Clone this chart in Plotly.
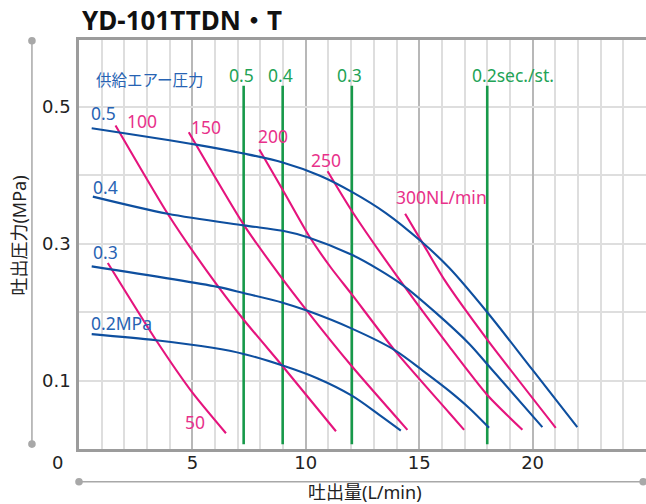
import plotly.graph_objects as go

# ---------------- data ----------------
# supply air pressure curves (MPa): discharge flow (L/min) vs discharge pressure (MPa)
p05_x = [0.56, 5.16, 7.26, 8.98, 10.6, 12.03, 13.53, 15.07, 16.32, 18.0, 19.99, 21.97]
p05_y = [0.469, 0.445, 0.432, 0.419, 0.400, 0.376, 0.345, 0.304, 0.265, 0.200, 0.116, 0.032]
p04_x = [0.61, 3.91, 7.26, 8.98, 10.15, 12.03, 13.24, 14.26, 15.74, 17.2, 18.0, 20.43]
p04_y = [0.369, 0.344, 0.327, 0.319, 0.309, 0.284, 0.262, 0.240, 0.199, 0.154, 0.124, 0.032]
p03_x = [0.56, 6.11, 7.26, 8.98, 10.08, 12.03, 13.9, 15.3, 16.32, 17.2, 18.08]
p03_y = [0.267, 0.237, 0.228, 0.214, 0.202, 0.176, 0.145, 0.111, 0.085, 0.060, 0.031]
p02_x = [0.56, 3.40, 5.89, 7.26, 8.98, 10.5, 12.03, 13.24, 14.19]
p02_y = [0.168, 0.159, 0.148, 0.139, 0.122, 0.1035, 0.078, 0.050, 0.027]
pressure_labels = ["0.5", "0.4", "0.3", "0.2MPa"]

# air consumption curves (NL/min)
c50_x = [1.27, 3.40, 5.01, 6.48]
c50_y = [0.272, 0.159, 0.082, 0.023]
c100_x = [1.61, 3.91, 5.6, 7.26, 8.98, 11.33]
c100_y = [0.473, 0.344, 0.262, 0.189, 0.121, 0.026]
c150_x = [4.84, 7.26, 8.83, 10.08, 12.03, 14.48]
c150_y = [0.463, 0.328, 0.255, 0.201, 0.121, 0.028]
c200_x = [7.95, 8.98, 10.15, 11.11, 12.03, 13.9, 16.32, 16.98]
c200_y = [0.438, 0.379, 0.311, 0.265, 0.226, 0.145, 0.053, 0.028]
c250_x = [10.96, 12.03, 14.34, 16.32, 18.0, 19.55]
c250_y = [0.406, 0.348, 0.238, 0.150, 0.079, 0.028]
c300_x = [14.38, 15.15, 16.1, 18.0, 21.02]
c300_y = [0.344, 0.301, 0.248, 0.160, 0.031]
consumption_labels = ["50", "100", "150", "200", "250", "300NL/min"]

# cycle time lines (sec./st.)
cycle_x = [7.26, 8.98, 12.03, 18.0]
cycle_labels = ["0.5", "0.4", "0.3", "0.2sec./st."]
cycle_y_range = [0.007, 0.531]

x_ticks = [5, 10, 15, 20]
y_ticks = [0.1, 0.3, 0.5]

title_text = "YD-101TTDN・T"
x_title = "吐出量(L/min)"
y_title = "吐出圧力(MPa)"
legend_title = "供給エアー圧力"

# ---------------- styles ----------------
FONT = "Noto Sans, Noto Sans CJK JP, sans-serif"
TICKFONT = "DejaVu Sans, Noto Sans CJK JP, sans-serif"
BLUE = "#0e4f9f"
BLUE_TXT = "#2763b3"
PINK = "#e5147d"
PINK_TXT = "#e8318a"
GREEN = "#17994a"
GREEN_TXT = "#22a356"
LBL = 17.5

fig = go.Figure()

# green cycle lines
for cx in cycle_x:
    fig.add_trace(go.Scatter(x=[cx, cx], y=cycle_y_range, mode="lines",
                             line=dict(color=GREEN, width=2.6), hoverinfo="skip"))

pink_series = [(c50_x, c50_y), (c100_x, c100_y), (c150_x, c150_y),
               (c200_x, c200_y), (c250_x, c250_y), (c300_x, c300_y)]
for xs, ys in pink_series:
    fig.add_trace(go.Scatter(x=xs, y=ys, mode="lines",
                             line=dict(color=PINK, width=2.1, shape="spline", smoothing=0.6),
                             hoverinfo="skip"))

blue_series = [(p05_x, p05_y), (p04_x, p04_y), (p03_x, p03_y), (p02_x, p02_y)]
for xs, ys in blue_series:
    fig.add_trace(go.Scatter(x=xs, y=ys, mode="lines",
                             line=dict(color=BLUE, width=2.1, shape="spline", smoothing=0.9),
                             hoverinfo="skip"))

ann = []
# blue labels, offset from each curve's first point (pixels)
blue_off = [(-3, 15), (-2, 10), (-1, 14), (-3, 11)]
for (xs, ys), t, (dx, dy) in zip(blue_series, pressure_labels, blue_off):
    ann.append(dict(x=xs[0], y=ys[0], text=t, showarrow=False, xanchor="left", yanchor="middle",
                    xshift=dx, yshift=dy, font=dict(family=FONT, size=LBL, color=BLUE_TXT)))

# pink labels (50 is placed relative to its end point)
pink_off = [(-43, 11), (9, 4), (0, 5), (-3, 13), (-19, 11), (-11, 17)]
for i, ((xs, ys), t, (dx, dy)) in enumerate(zip(pink_series, consumption_labels, pink_off)):
    k = -1 if i == 0 else 0
    ann.append(dict(x=xs[k], y=ys[k], text=t, showarrow=False, xanchor="left", yanchor="middle",
                    xshift=dx, yshift=dy, font=dict(family=FONT, size=LBL, color=PINK_TXT)))

# green labels
for cx, t in zip(cycle_x, cycle_labels):
    ann.append(dict(x=cx, y=cycle_y_range[1], text=t, showarrow=False, xanchor="left",
                    yanchor="middle", xshift=-17, yshift=11,
                    font=dict(family=FONT, size=LBL, color=GREEN_TXT)))

# legend caption
ann.append(dict(x=p05_x[0], y=p05_y[0], text=legend_title, showarrow=False, xanchor="left",
                yanchor="middle", xshift=2, yshift=48,
                font=dict(family=FONT, size=15.5, color=BLUE_TXT)))

# origin label "0"
ann.append(dict(x=0, y=0, text="0", showarrow=False, xanchor="center", yanchor="middle",
                xshift=-22, yshift=-13, font=dict(family=TICKFONT, size=18, color="#222")))

# axis titles
ann.append(dict(xref="paper", yref="paper", x=-0.105, y=0.523, text=y_title, textangle=-90,
                showarrow=False, xanchor="center", yanchor="middle",
                font=dict(family=FONT, size=18, color="#222")))
ann.append(dict(xref="paper", yref="paper", x=0.504, y=-0.105, text=x_title,
                showarrow=False, xanchor="center", yanchor="middle",
                font=dict(family=FONT, size=18, color="#222")))

# chart title
ann.append(dict(xref="paper", yref="paper", x=0, y=1, text="<b>" + title_text + "</b>",
                showarrow=False, xanchor="left", yanchor="middle", xshift=1, yshift=20,
                font=dict(family=FONT, size=26, color="#111")))

# decorative axis brackets
GRAY = "#a8a8a8"
shapes = [
    dict(type="line", xref="paper", yref="paper", x0=-0.083, x1=-0.083, y0=0.012, y1=0.998,
         line=dict(color=GRAY, width=1.5)),
    dict(type="line", xref="paper", yref="paper", x0=0.0, x1=0.995, y0=-0.08, y1=-0.08,
         line=dict(color=GRAY, width=1.5)),
]
for (px, py) in [(-0.083, 0.998), (-0.083, 0.012), (0.0, -0.08), (0.995, -0.08)]:
    shapes.append(dict(type="circle", xref="paper", yref="paper", xsizemode="pixel",
                       ysizemode="pixel", xanchor=px, yanchor=py, x0=-3.8, x1=3.8, y0=-3.8, y1=3.8,
                       fillcolor=GRAY, line=dict(width=0)))

fig.update_layout(
    width=646, height=504,
    margin=dict(l=79, r=0, t=40, b=55),
    plot_bgcolor="white", paper_bgcolor="white",
    showlegend=False,
    annotations=ann, shapes=shapes,
    font=dict(family=FONT, color="#222"),
    xaxis=dict(range=[0, 25], tickvals=x_ticks, ticktext=[str(v) for v in x_ticks],
               showgrid=True, gridcolor="#b8b8b8", gridwidth=1.5,
               minor=dict(dtick=1, tick0=0, showgrid=True, gridcolor="#dedede", gridwidth=1.5),
               showline=True, mirror=True, linecolor="#9c9c9c", linewidth=2.5,
               zeroline=False, ticks="", ticklabelstandoff=-4,
               tickfont=dict(family=TICKFONT, size=18, color="#222")),
    yaxis=dict(range=[0, 0.598], tickvals=y_ticks, ticktext=[str(v) for v in y_ticks],
               showgrid=True, gridcolor="#dedede", gridwidth=1.5,
               minor=dict(dtick=0.1, tick0=0, showgrid=True, gridcolor="#dedede", gridwidth=1.5),
               showline=True, linecolor="#9c9c9c", linewidth=2.5,
               zeroline=False, ticks="", ticklabelstandoff=2,
               tickfont=dict(family=TICKFONT, size=18, color="#222")),
)

fig.write_html("out.html", config={"displayModeBar": False},
               post_script="document.body.style.margin='0';document.body.style.overflow='hidden';")
